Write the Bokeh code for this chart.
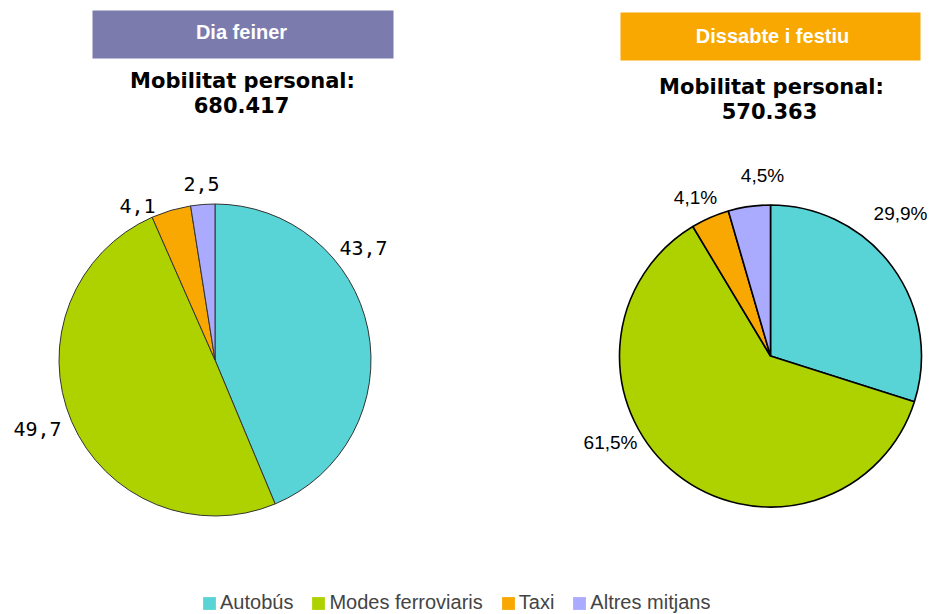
import numpy as np
from bokeh.plotting import figure
from bokeh.models import ColumnDataSource, Range1d, Legend, LegendItem
from bokeh.core.properties import value
from bokeh.embed import file_html
from bokeh.resources import INLINE

# ---- data ----
categories = ["Autobús", "Modes ferroviaris", "Taxi", "Altres mitjans"]
weekday = [43.7, 49.7, 4.1, 2.5]
weekend = [29.9, 61.5, 4.1, 4.5]
panel_titles = ["Dia feiner", "Dissabte i festiu"]
subtitle = "Mobilitat personal:"
totals = ["680.417", "570.363"]
colors = ["#58D4D6", "#ADD200", "#F8A800", "#AAAAFF"]
box_colors = ["#7B7BAE", "#F8A800"]

# ---- layout (screen px, y measured from top) ----
W, H = 933, 614
def Y(py):
    return [H - v for v in py] if isinstance(py, (list, tuple)) else H - py

p = figure(width=W, height=H, x_range=Range1d(0, W), y_range=Range1d(0, H),
           output_backend="svg", toolbar_location=None, min_border=0,
           x_axis_type=None, y_axis_type=None, outline_line_color=None)
p.grid.visible = False


def pie(vals, cx, cy, r, line_color, line_width):
    frac = np.array(vals, dtype=float) / sum(vals)
    cum = np.concatenate([[0.0], np.cumsum(frac)])
    start = np.pi / 2 - 2 * np.pi * cum[:-1]
    end = np.pi / 2 - 2 * np.pi * cum[1:]
    n = len(vals)
    src = ColumnDataSource(dict(x=[cx] * n, y=[Y(cy)] * n, start=start, end=end,
                                color=colors, cat=categories))
    return p.wedge(x="x", y="y", radius=r, start_angle="start", end_angle="end",
                   direction="clock", fill_color="color", line_color=line_color,
                   line_width=line_width, source=src)


pie(weekday, 214.5, 359.5, 156, "#333333", 1)
pie(weekend, 770, 355.5, 151, "#000000", 1.6)

# title boxes
p.quad(left=[92, 620], right=[393, 920], top=Y([10, 12]), bottom=Y([58, 60]),
       fill_color=box_colors, line_color=None)
p.text(x=[241, 772], y=Y([31, 35]), text=panel_titles,
       text_font=value("Liberation Sans"), text_font_style="bold",
       text_font_size="20px", text_color="white",
       text_align="center", text_baseline="middle")

# subtitles
p.text(x=[242, 771], y=Y([80, 86]), text=[subtitle, subtitle],
       text_font=value("DejaVu Sans"), text_font_style="bold",
       text_font_size="21px", text_color="black",
       text_align="center", text_baseline="middle")
p.text(x=[241, 769], y=Y([104, 110]), text=totals,
       text_font=value("DejaVu Sans"), text_font_style="bold",
       text_font_size="21px", text_color="black",
       text_align="center", text_baseline="middle")

# data labels, left pie (values without %)
left_lbl_x = [363, 37, 137, 183]
left_lbl_y = [247, 428, 205, 183]
left_align = ["center", "center", "center", "left"]
left_text = [f"{v:.1f}".replace(".", ",") for v in weekday]
p.text(x=left_lbl_x, y=Y(left_lbl_y), text=left_text,
       text_font=value("DejaVu Sans Mono"), text_font_size="20px",
       text_color="black", text_align=left_align, text_baseline="middle")

# data labels, right pie
right_lbl_x = [900, 610, 695, 762]
right_lbl_y = [213, 442, 197, 175]
right_text = [f"{v:.1f}%".replace(".", ",") for v in weekend]
p.text(x=right_lbl_x, y=Y(right_lbl_y), text=right_text,
       text_font=value("Liberation Sans"), text_font_size="19px",
       text_color="black", text_align="center", text_baseline="middle")

# legend (swatches only, no outline)
n = len(categories)
leg_src = ColumnDataSource(dict(l=[np.nan] * n, r=[np.nan] * n, t=[np.nan] * n,
                                b=[np.nan] * n, color=colors, cat=categories))
leg_r = p.quad(left="l", right="r", top="t", bottom="b", fill_color="color",
               line_color=None, source=leg_src)
items = [LegendItem(label=cat, renderers=[leg_r], index=i)
         for i, cat in enumerate(categories)]
legend = Legend(items=items, orientation="horizontal", location=(201, 0),
                label_text_font="Liberation Sans", label_text_font_size="20px",
                glyph_width=16, glyph_height=16, label_standoff=3, spacing=17,
                padding=0, margin=0, border_line_color=None,
                background_fill_alpha=0, label_height=16)
p.add_layout(legend)

open("out.html", "w").write(file_html(p, INLINE))
